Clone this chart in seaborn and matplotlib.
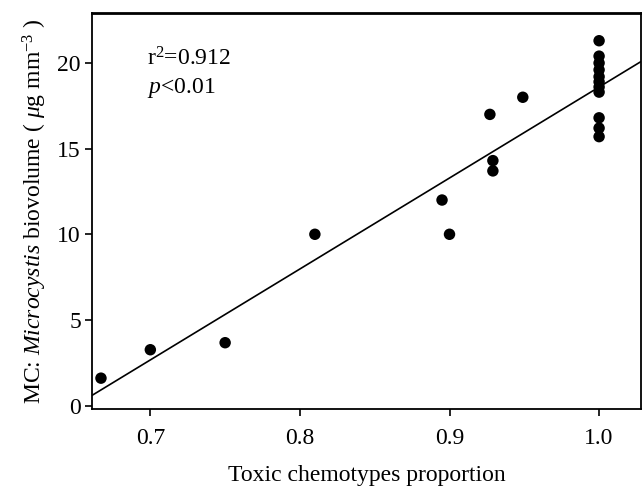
import matplotlib
matplotlib.use("Agg")
import matplotlib.pyplot as plt
import seaborn as sns
import numpy as np
import pandas as pd

# Data
toxic_proportion = [0.667, 0.700, 0.750, 0.810, 0.895, 0.900, 0.927, 0.929, 0.929, 0.949,
                    1.0, 1.0, 1.0, 1.0, 1.0, 1.0, 1.0, 1.0, 1.0, 1.0, 1.0]
biovolume = [1.6, 3.26, 3.67, 10.0, 12.0, 10.0, 17.0, 14.3, 13.7, 18.0,
             21.3, 20.4, 20.0, 19.6, 19.2, 18.9, 18.6, 18.3, 16.8, 16.2, 15.7]
x_ticks = [0.7, 0.8, 0.9, 1.0]
x_tick_labels = ["0.7", "0.8", "0.9", "1.0"]
y_ticks = [0, 5, 10, 15, 20]

df = pd.DataFrame({"x": toxic_proportion, "y": biovolume})

sns.set_style("ticks")
plt.rcParams["font.family"] = ["Liberation Serif", "DejaVu Serif"]
plt.rcParams["mathtext.fontset"] = "custom"
plt.rcParams["mathtext.rm"] = "Liberation Serif"
plt.rcParams["mathtext.it"] = "Liberation Serif:italic"

FS = 17

fig = plt.figure(figsize=(6.42, 4.88), dpi=100)
ax = fig.add_axes([0.1433, 0.1619, 0.8551, 0.8108])
ax.set_xlim(0.661, 1.028)
ax.set_ylim(-0.2, 22.9)

sns.regplot(data=df, x="x", y="y", ax=ax, ci=None, truncate=False,
            scatter_kws=dict(s=68, color="black", edgecolor="none", alpha=1),
            line_kws=dict(color="black", lw=1.2))

ax.set_xlim(0.661, 1.028)
ax.set_ylim(-0.2, 22.9)
ax.set_xticks(x_ticks)
ax.set_xticklabels(x_tick_labels)
ax.set_yticks(y_ticks)
ax.tick_params(axis="both", labelsize=FS, length=5, width=1.2, color="black",
               labelcolor="black", direction="out")
ax.tick_params(axis="x", pad=9)
ax.tick_params(axis="y", pad=3)
for side in ["left", "right", "top", "bottom"]:
    ax.spines[side].set_visible(True)
    ax.spines[side].set_color("black")
    ax.spines[side].set_linewidth(1.3)
ax.spines["top"].set_linewidth(2.0)

ax.set_xlabel("Toxic chemotypes proportion", fontsize=FS, labelpad=11, color="black")
ax.set_ylabel(r"MC: $\mathit{Microcystis}$ biovolume ( $\mathit{\mu}$g mm$^{-3}$ )",
              fontsize=FS, labelpad=6, color="black")

ax.text(0.10, 0.867, r"r$^2$=0.912", transform=ax.transAxes, fontsize=FS,
        color="black", va="baseline")
ax.text(0.10, 0.799, r"$\mathit{p}$<0.01", transform=ax.transAxes, fontsize=FS,
        color="black", va="baseline")

fig.savefig("out.png", dpi=100)
